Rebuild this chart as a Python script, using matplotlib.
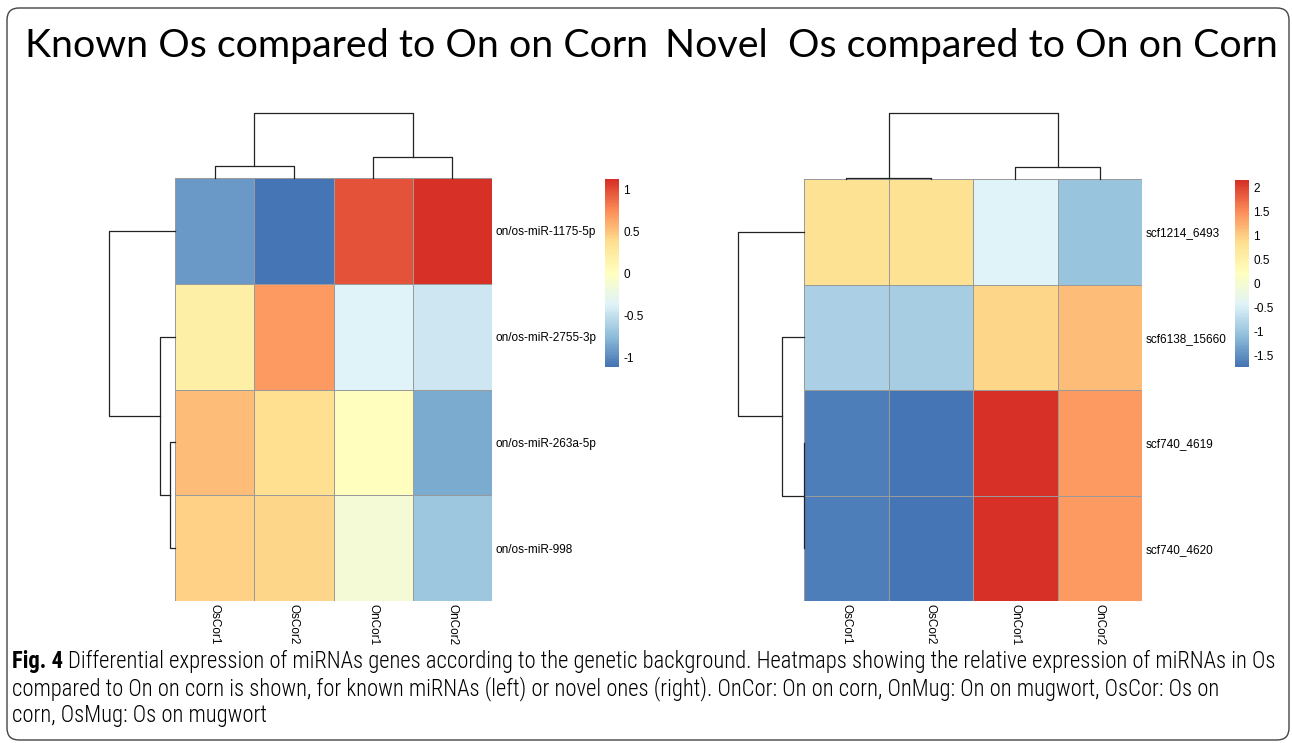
import numpy as np
import matplotlib
import matplotlib.pyplot as plt
from matplotlib import font_manager
from matplotlib.colors import LinearSegmentedColormap, Normalize
from matplotlib.cm import ScalarMappable
from matplotlib.patches import FancyBboxPatch
from matplotlib.transforms import IdentityTransform

# ---- data ----
samples = ["OsCor1", "OsCor2", "OnCor1", "OnCor2"]

known_genes = ["on/os-miR-1175-5p", "on/os-miR-2755-3p", "on/os-miR-263a-5p", "on/os-miR-998"]
known_values = [
    [-0.93, -1.11, 0.98, 1.13],
    [0.19, 0.70, -0.37, -0.45],
    [0.53, 0.38, 0.03, -0.82],
    [0.44, 0.43, -0.14, -0.68],
]
known_col_merges = [(0, 1, 0.55), (2, 3, 0.97), (4, 5, 3.0)]
known_row_merges = [(2, 3, 0.23), (1, 4, 0.68), (0, 5, 3.0)]
known_ticks = [-1, -0.5, 0, 0.5, 1]

novel_genes = ["scf1214_6493", "scf6138_15660", "scf740_4619", "scf740_4620"]
novel_values = [
    [0.82, 0.79, -0.44, -1.01],
    [-0.88, -0.92, 0.91, 1.11],
    [-1.66, -1.75, 2.15, 1.40],
    [-1.67, -1.74, 2.14, 1.40],
]
novel_col_merges = [(0, 1, 0.05), (2, 3, 0.56), (4, 5, 3.0)]
novel_row_merges = [(2, 3, 0.02), (1, 4, 1.02), (0, 5, 3.0)]
novel_ticks = [-1.5, -1, -0.5, 0, 0.5, 1, 1.5, 2]

titles = ["Known Os compared to On on Corn", "Novel  Os compared to On on Corn"]
caption_bold = "Fig. 4"
caption_lines = [
    "Differential expression of miRNAs genes according to the genetic background. Heatmaps showing the relative expression of miRNAs in Os",
    "compared to On on corn is shown, for known miRNAs (left) or novel ones (right). OnCor: On on corn, OnMug: On on mugwort, OsCor: Os on",
    "corn, OsMug: Os on mugwort",
]

# pheatmap default palette
pal = ["#4575B4", "#91BFDB", "#E0F3F8", "#FFFFBF", "#FEE090", "#FC8D59", "#D73027"]
cmap = LinearSegmentedColormap.from_list("rdylbu_r", pal, N=100)

fonts = font_manager.fontManager.ttflist
installed = {f.name for f in fonts}
label_font = "Liberation Sans" if "Liberation Sans" in installed else "DejaVu Sans"
title_font = "Lato" if "Lato" in installed else "DejaVu Sans"


def lightest(name):
    ws = [f.weight for f in fonts if f.name == name and f.style == "normal"]
    ws = [w if isinstance(w, int) else font_manager.weight_dict.get(w, 400) for w in ws]
    return min(ws) if ws else None


caption_font, caption_weight = label_font, "normal"
for cand in ["Open Sans Condensed", "Liberation Sans Narrow", "DejaVu Sans Condensed", "Roboto Condensed"]:
    w = lightest(cand)
    if w is not None and w < 600:
        caption_font, caption_weight = cand, w
        break
bold_font = caption_font if lightest(caption_font) is not None else label_font

W, H = 1292, 743
fig = plt.figure(figsize=(W / 100, H / 100), dpi=100)
fig.patch.set_facecolor("white")
LS = 8.5


def px_axes(x0, y0, x1, y1):
    # pixel box (top-left origin) -> axes
    return fig.add_axes([x0 / W, 1 - y1 / H, (x1 - x0) / W, (y1 - y0) / H])


def dendro_segments(merges, n):
    pos = {i: i + 0.5 for i in range(n)}
    hgt = {i: 0.0 for i in range(n)}
    segs = []
    for k, (a, b, h) in enumerate(merges):
        segs.append(([pos[a], pos[a], pos[b], pos[b]], [hgt[a], h, h, hgt[b]]))
        pos[n + k] = (pos[a] + pos[b]) / 2
        hgt[n + k] = h
    return segs


def draw_panel(values, genes, col_merges, row_merges, ticks, box, cbar_box):
    data = np.array(values)
    x0, y0, x1, y1 = box
    n = data.shape[0]
    vmin, vmax = data.min(), data.max()

    ax = px_axes(x0, y0, x1, y1)
    ax.pcolormesh(data, cmap=cmap, vmin=vmin, vmax=vmax,
                  edgecolors="#9a9a9a", linewidth=0.7)
    ax.set_xlim(0, data.shape[1])
    ax.set_ylim(n, 0)
    for s in ax.spines.values():
        s.set_visible(False)
    ax.set_xticks(np.arange(data.shape[1]) + 0.5)
    ax.set_xticklabels(samples, rotation=-90, fontsize=LS, family=label_font)
    ax.set_yticks(np.arange(n) + 0.5)
    ax.set_yticklabels(genes, fontsize=LS, family=label_font)
    ax.yaxis.tick_right()
    ax.tick_params(length=0, pad=2.5)

    # column dendrogram
    root = col_merges[-1][2]
    axc = px_axes(x0, 113, x1, y0)
    for xs, ys in dendro_segments(col_merges, data.shape[1]):
        axc.plot(xs, ys, color="#222222", lw=0.9, clip_on=False)
    axc.set_xlim(0, data.shape[1])
    axc.set_ylim(0, root)
    axc.axis("off")

    # row dendrogram
    root = row_merges[-1][2]
    axr = px_axes(x0 - 66, y0, x0, y1)
    for xs, ys in dendro_segments(row_merges, n):
        axr.plot(ys, xs, color="#222222", lw=0.9, clip_on=False)
    axr.set_ylim(n, 0)
    axr.set_xlim(root, 0)
    axr.axis("off")

    # colour key
    cax = px_axes(*cbar_box)
    cb = fig.colorbar(ScalarMappable(norm=Normalize(vmin, vmax), cmap=cmap), cax=cax)
    cb.outline.set_visible(False)
    cb.set_ticks(ticks)
    cb.set_ticklabels(["%g" % t for t in ticks])
    cax.tick_params(length=0, pad=3, labelsize=LS)
    for lab in cax.get_yticklabels():
        lab.set_family(label_font)


draw_panel(known_values, known_genes, known_col_merges, known_row_merges, known_ticks,
           (175, 178, 492, 601), (605, 179, 619, 367))
draw_panel(novel_values, novel_genes, novel_col_merges, novel_row_merges, novel_ticks,
           (804, 179, 1142, 601), (1235, 180, 1249, 367))

renderer = fig.canvas.get_renderer()


def fit_text(x, y, s, width, size, **kw):
    t = fig.text(x / W, 1 - y / H, s, fontsize=size, va="baseline", ha="left", **kw)
    for _ in range(3):
        w = t.get_window_extent(renderer).width
        t.set_fontsize(t.get_fontsize() * width / w)
    return t


# titles
fit_text(25, 57, titles[0], 623, 30, family=title_font)
fit_text(665, 57, titles[1], 613, 30, family=title_font)

# caption: bold lead-in plus first line must span x = 12..1278
tb = fig.text(12 / W, 1 - 668 / H, caption_bold, fontsize=13, fontweight="bold",
              family=bold_font, va="baseline")
t1 = fig.text(0, 1 - 668 / H, caption_lines[0], fontsize=13,
              family=caption_font, fontweight=caption_weight, va="baseline")
size = 13
for _ in range(4):
    tb.set_fontsize(size)
    t1.set_fontsize(size)
    bw = tb.get_window_extent(renderer).width
    gap = size * 0.3
    w1 = t1.get_window_extent(renderer).width
    size = size * (1278 - 12) / (bw + gap + w1)
tb.set_fontsize(size)
t1.set_fontsize(size)
bw = tb.get_window_extent(renderer).width
t1.set_x((12 + bw + size * 0.3) / W)
for i, line in enumerate(caption_lines[1:]):
    fig.text(12 / W, 1 - (695 + 27 * i) / H, line, fontsize=size,
             family=caption_font, fontweight=caption_weight, va="baseline")

# outer rounded frame
frame = FancyBboxPatch((7, 3), 1282, 732, boxstyle="round,pad=0,rounding_size=12",
                       transform=IdentityTransform(), fill=False, ec="#444444", lw=1.0)
fig.patches.append(frame)

fig.savefig("out.png", dpi=100, facecolor="white")
